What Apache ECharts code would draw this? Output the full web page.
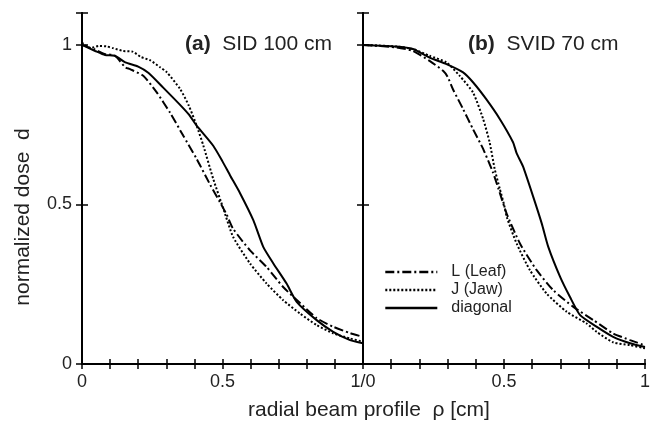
<!DOCTYPE html>
<html>
<head>
<meta charset="utf-8">
<script src="https://cdn.jsdelivr.net/npm/echarts@6/dist/echarts.min.js"></script>
<style>
  html, body { margin: 0; padding: 0; background: #fff; }
  #chart { width: 654px; height: 425px; }
</style>
</head>
<body>
<div id="chart"></div>
<script>
// panel (a) SID 100 cm : [rho, dose]
const aLeaf = [[0,1.0],[0.047,0.985],[0.08,0.972],[0.117,0.966],[0.154,0.93],[0.171,0.924],[0.218,0.903],[0.266,0.851],[0.313,0.788],[0.36,0.716],[0.408,0.643],[0.456,0.562],[0.491,0.507],[0.515,0.468],[0.537,0.425],[0.598,0.356],[0.657,0.304],[0.715,0.242],[0.776,0.191],[0.835,0.144],[0.893,0.117],[0.954,0.097],[1.0,0.085]];
const aJaw = [[0,1.007],[0.03,0.99],[0.06,0.997],[0.09,0.995],[0.11,0.99],[0.146,0.981],[0.18,0.979],[0.21,0.962],[0.242,0.952],[0.278,0.93],[0.301,0.915],[0.349,0.862],[0.38,0.81],[0.408,0.747],[0.432,0.684],[0.467,0.58],[0.503,0.487],[0.538,0.398],[0.598,0.315],[0.657,0.252],[0.716,0.2],[0.776,0.158],[0.835,0.122],[0.894,0.096],[0.954,0.08],[1.0,0.07]];
const aDiag = [[0,1.0],[0.047,0.981],[0.082,0.968],[0.117,0.966],[0.154,0.945],[0.2,0.932],[0.237,0.912],[0.289,0.866],[0.349,0.812],[0.38,0.782],[0.408,0.747],[0.467,0.684],[0.5,0.635],[0.527,0.591],[0.562,0.536],[0.61,0.45],[0.645,0.367],[0.681,0.315],[0.728,0.252],[0.764,0.195],[0.835,0.1375],[0.894,0.101],[0.954,0.075],[1.0,0.065]];

// panel (b) SVID 70 cm
const bLeaf = [[0,1.0],[0.118,0.992],[0.177,0.981],[0.236,0.95],[0.284,0.919],[0.3,0.9],[0.319,0.861],[0.355,0.799],[0.39,0.736],[0.426,0.674],[0.461,0.6],[0.48,0.55],[0.51,0.47],[0.557,0.377],[0.616,0.294],[0.675,0.231],[0.746,0.179],[0.817,0.1375],[0.887,0.096],[0.947,0.075],[1.0,0.058]];
const bJaw = [[0,1.0],[0.118,0.995],[0.177,0.987],[0.236,0.966],[0.296,0.945],[0.343,0.903],[0.39,0.851],[0.426,0.768],[0.449,0.695],[0.467,0.611],[0.485,0.549],[0.5,0.5],[0.51,0.46],[0.545,0.377],[0.592,0.294],[0.651,0.221],[0.722,0.164],[0.793,0.127],[0.828,0.101],[0.887,0.068],[0.947,0.059],[1.0,0.049]];
const bDiag = [[0,1.0],[0.118,0.995],[0.177,0.987],[0.236,0.96],[0.296,0.94],[0.355,0.914],[0.39,0.883],[0.437,0.83],[0.485,0.768],[0.532,0.695],[0.545,0.66],[0.567,0.62],[0.604,0.523],[0.634,0.44],[0.657,0.367],[0.699,0.273],[0.734,0.21],[0.77,0.153],[0.828,0.117],[0.887,0.085],[0.947,0.065],[1.0,0.053]];

const seriesNames = ["L (Leaf)", "J (Jaw)", "diagonal"];
const xLabelsA = { "0": "0", "0.5": "0.5", "1": "1/0" };
const xLabelsB = { "0.5": "0.5", "1": "1" };
const yLabels = { "0": "0", "0.5": "0.5", "1": "1" };

const FONT = "Liberation Sans, Arial, Helvetica, sans-serif";
const TEXT = "#222";

const lineStyles = [
  { type: [9, 3, 2, 3], width: 2 },
  { type: [2, 2], width: 2 },
  { type: "solid", width: 2 },
];

function pick(map, v) {
  const k = String(Math.round(v * 10) / 10);
  return map[k] ?? "";
}

function xAxis(gridIndex, position, labels) {
  return {
    type: "value", gridIndex, position, min: 0, max: 1, interval: 0.1,
    axisLine: { lineStyle: { color: "#000", width: 2 } },
    axisTick: { inside: true, length: 5, lineStyle: { color: "#000", width: 1.5 } },
    axisLabel: {
      show: !!labels, margin: 9, color: TEXT, fontSize: 18, fontFamily: FONT,
      formatter: (v) => pick(labels || {}, v),
    },
    splitLine: { show: false },
  };
}

function yAxis(gridIndex, position, labels) {
  return {
    type: "value", gridIndex, position, min: 0, max: 1.1, interval: 0.5,
    axisLine: { show: true, lineStyle: { color: "#000", width: 2 } },
    axisTick: { show: true, inside: true, length: 6, lineStyle: { color: "#000", width: 1.5 } },
    axisLabel: {
      show: !!labels, margin: 10, color: TEXT, fontSize: 18, fontFamily: FONT,
      formatter: (v) => pick(labels || {}, v),
    },
    splitLine: { show: false },
  };
}

function line(name, data, idx, axisIndex) {
  return {
    type: "line", name, data, xAxisIndex: axisIndex, yAxisIndex: axisIndex,
    symbol: "none", smooth: 0.2, silent: true,
    itemStyle: { color: "#000" },
    lineStyle: Object.assign({ color: "#000" }, lineStyles[idx]),
  };
}

const chart = echarts.init(document.getElementById("chart"), null, { renderer: "canvas" });

chart.setOption({
  animation: false,
  backgroundColor: "#fff",
  textStyle: { fontFamily: FONT },
  grid: [
    { left: 82, right: 291, top: 13, bottom: 61 },
    { left: 363, right: 9, top: 13, bottom: 61 },
  ],
  xAxis: [
    xAxis(0, "bottom", xLabelsA),
    xAxis(0, "top", null),
    xAxis(1, "bottom", xLabelsB),
    xAxis(1, "top", null),
  ],
  yAxis: [
    yAxis(0, "left", yLabels),
    yAxis(0, "right", null),
    yAxis(1, "left", null),
    yAxis(1, "right", null),
  ],
  legend: {
    data: seriesNames,
    orient: "vertical",
    left: 379, top: 259,
    itemWidth: 52, itemHeight: 14, itemGap: 2,
    itemStyle: { opacity: 0 },
    lineStyle: { width: 2.6 },
    textStyle: { fontSize: 16, color: TEXT, fontFamily: FONT, padding: [0, 0, 0, 9] },
  },
  series: [
    line(seriesNames[0], aLeaf, 0, 0),
    line(seriesNames[1], aJaw, 1, 0),
    line(seriesNames[2], aDiag, 2, 0),
    line(seriesNames[0], bLeaf, 0, 2),
    line(seriesNames[1], bJaw, 1, 2),
    line(seriesNames[2], bDiag, 2, 2),
  ],
  graphic: [
    {
      type: "text", x: 185, y: 44,
      style: {
        text: "{b|(a)}  SID 100 cm", fill: TEXT, font: "21px " + FONT,
        verticalAlign: "middle",
        rich: { b: { fontWeight: "bold", fontSize: 21, fontFamily: FONT, fill: TEXT } },
      },
    },
    {
      type: "text", x: 468, y: 44,
      style: {
        text: "{b|(b)}  SVID 70 cm", fill: TEXT, font: "21px " + FONT,
        verticalAlign: "middle",
        rich: { b: { fontWeight: "bold", fontSize: 21, fontFamily: FONT, fill: TEXT } },
      },
    },
    {
      type: "text", x: 23, y: 217, rotation: Math.PI / 2,
      style: {
        text: "normalized dose  d", fill: TEXT, font: "21px " + FONT,
        align: "center", verticalAlign: "middle",
      },
    },
    {
      type: "text", x: 369, y: 410,
      style: {
        text: "radial beam profile  \u03c1 [cm]", fill: TEXT, font: "21px " + FONT,
        align: "center", verticalAlign: "middle",
      },
    },
  ],
});
</script>
</body>
</html>
